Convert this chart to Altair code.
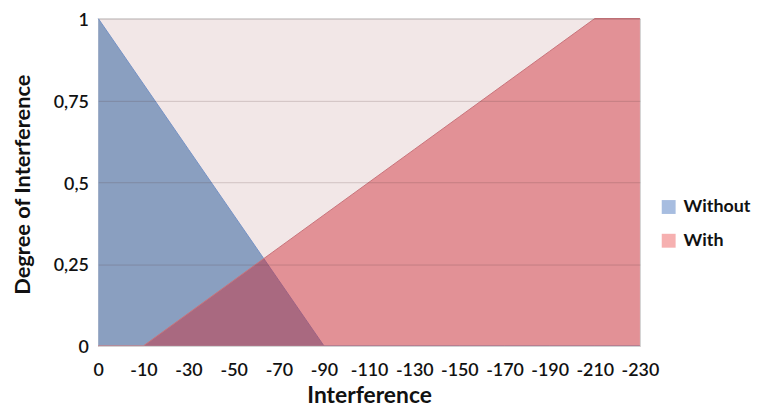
import altair as alt
import pandas as pd

categories = ["0", "-10", "-30", "-50", "-70", "-90", "-110", "-130",
              "-150", "-170", "-190", "-210", "-230"]
without_vals = [1, 0.8, 0.6, 0.4, 0.2, 0, 0, 0, 0, 0, 0, 0, 0]
with_vals = [0, 0, 0.1, 0.2, 0.3, 0.4, 0.5, 0.6, 0.7, 0.8, 0.9, 1, 1]
series_names = ["Without", "With"]
legend_colors = ["#a7bde0", "#f6b0b0"]
y_ticks = [0, 0.25, 0.5, 0.75, 1]

df = pd.DataFrame({"cat": categories, "Without": without_vals, "With": with_vals})
long = df.melt(id_vars="cat", var_name="series", value_name="value")

FONT = "Lato"

x_axis = alt.Axis(
    title="Interference", labelAngle=0, ticks=False, labelPadding=16,
    labelFont=FONT, labelFontSize=18, labelColor="#111", labelFontWeight=600,
    titleFont=FONT, titleFontSize=23, titleFontWeight="bold", titleColor="#111",
    titleY=57, titleBaseline="alphabetic",
    domainColor="#d9d9d9", grid=False, zindex=1,
)
y_axis = alt.Axis(
    title="Degree of Interference", values=y_ticks,
    labelExpr="replace(toString(datum.value), '.', ',')",
    ticks=False, domain=False, labelPadding=10, labelOffset=2,
    labelFont=FONT, labelFontSize=18, labelColor="#111", labelFontWeight=600,
    titleFont=FONT, titleFontSize=22, titleFontWeight="bold", titleColor="#111",
    titleX=-76, titleY=167, titleAlign="center", titleBaseline="middle", titleAngle=270,
    grid=True, gridColor="#5a3a3a", gridOpacity=0.22, zindex=1,
)

x_enc = alt.X("cat:O", sort=categories, scale=alt.Scale(type="point", padding=0), axis=x_axis)
y_scale = alt.Scale(domain=[0, 1], nice=False)

blue = alt.Chart(df).mark_area(
    color="#8a9fc0", opacity=1, line={"color": "#7592c4", "strokeWidth": 1}
).encode(x=x_enc, y=alt.Y("Without:Q", scale=y_scale, axis=y_axis))

red = alt.Chart(df).mark_area(
    color="#ce2833", opacity=0.45, line={"color": "#c8737a", "strokeWidth": 1}
).encode(x=x_enc, y=alt.Y("With:Q", scale=y_scale, axis=y_axis))

leg = alt.Chart(long).mark_square(opacity=0, size=1).encode(
    x=x_enc,
    y=alt.Y("value:Q", scale=y_scale, axis=y_axis),
    color=alt.Color(
        "series:N",
        scale=alt.Scale(domain=series_names, range=legend_colors),
        legend=alt.Legend(
            title=None, orient="none", legendX=566, legendY=181,
            symbolType="square", symbolSize=196, symbolOpacity=1,
            symbolStrokeWidth=0, labelFont=FONT, labelFontSize=18,
            labelFontWeight="bold", labelColor="#111", labelOffset=6,
            rowPadding=16, padding=0, labelLimit=200,
        ),
    ),
)

chart = alt.layer(blue, red, leg).properties(
    width=546, height=330,
    background="white",
    autosize=alt.AutoSizeParams(type="none"),
    padding={"left": 91, "top": 9, "right": 114, "bottom": 62},
).configure_view(fill="#f2e7e7", stroke="#d0d0d0")

chart.save("out.html", embed_options={"renderer": "svg", "actions": False})
